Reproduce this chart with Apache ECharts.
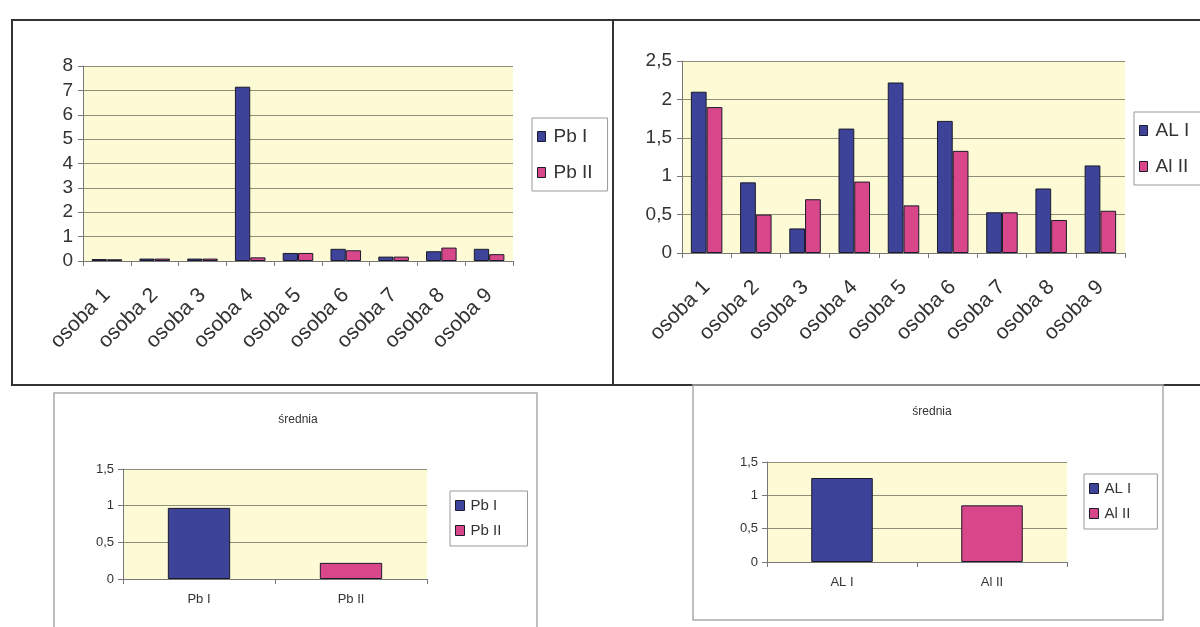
<!DOCTYPE html>
<html><head><meta charset="utf-8">
<script src="https://cdn.jsdelivr.net/npm/echarts@6/dist/echarts.min.js"></script>
<style>html,body{margin:0;padding:0;background:#fff;}#c{width:1200px;height:627px;}</style>
</head><body><div id="c"></div>
<script>
const persons = ['osoba 1','osoba 2','osoba 3','osoba 4','osoba 5','osoba 6','osoba 7','osoba 8','osoba 9'];
const pbI  = [0.08, 0.1, 0.1, 7.15, 0.33, 0.5, 0.18, 0.4, 0.5];
const pbII = [0.07, 0.1, 0.1, 0.15, 0.33, 0.44, 0.18, 0.55, 0.28];
const alI  = [2.1, 0.92, 0.32, 1.62, 2.22, 1.72, 0.53, 0.84, 1.14];
const alII = [1.9, 0.5, 0.7, 0.93, 0.62, 1.33, 0.53, 0.43, 0.55];
const pbMeanCats = ['Pb I','Pb II'];
const pbMean = [0.97, 0.22];
const alMeanCats = ['AL I','Al II'];
const alMean = [1.26, 0.85];

const BLUE = '#3d4398', PINK = '#d9478b', EDGE = '#1a1a2a';
const FONT = 'Liberation Sans';
const comma = v => String(v).replace('.', ',');

const grids = [
  {left:83, top:66, width:430, height:195},
  {left:682, top:61, width:443, height:192},
  {left:123, top:469, width:304, height:110},
  {left:767, top:462, width:300, height:100}
].map(g => Object.assign(g, {show:true, backgroundColor:'#fdfbd6', borderWidth:0}));

function xAx(i, cats, big){
  return {type:'category', gridIndex:i, data:cats,
    axisLine:{lineStyle:{color:'#777', width:1}},
    axisTick:{show:true, length:5, lineStyle:{color:'#777'}},
    axisLabel: big ? {rotate:45, fontSize:21, color:'#333', fontFamily:FONT, margin:31, interval:0}
                   : {fontSize:13, color:'#333', fontFamily:FONT, margin:14}};
}
function yAx(i, max, interval, big){
  return {type:'value', gridIndex:i, min:0, max:max, interval:interval,
    axisLine:{show:true, lineStyle:{color:'#777'}},
    axisTick:{show:true, length:5, lineStyle:{color:'#777'}},
    splitLine:{lineStyle:{color:'#8f8f78', width:1.2}},
    axisLabel:{formatter:comma, fontSize: big?19:13, color:'#333', fontFamily:FONT, margin: big?10:9}};
}
function bar(name, data, color, i, opts){
  return Object.assign({type:'bar', name:name, data:data, xAxisIndex:i, yAxisIndex:i,
    itemStyle:{color:color, borderColor:EDGE, borderWidth:1}, barGap:'0%', barCategoryGap:'36%'}, opts||{});
}
function legend(names, left, top, big){
  return {data:names, orient:'vertical', left:left, top:top, icon:'rect',
    itemWidth: big?8:9, itemHeight: big?10:10, itemGap: big?17:10,
    itemStyle:{borderColor:EDGE, borderWidth:1},
    borderColor:'#999', borderWidth:1, padding: big?[9,15,9,5]:[7,22,8,5],
    textStyle:{fontSize: big?19:15, color:'#333', fontFamily:FONT, padding:[0,0,0, big?3:1]}};
}

const option = {
  animation:false,
  textStyle:{fontFamily:FONT},
  title:[
    {text:'średnia', left:293, top:409, textAlign:'center', textStyle:{fontSize:12, fontWeight:'normal', color:'#333', fontFamily:FONT}},
    {text:'średnia', left:927, top:401, textAlign:'center', textStyle:{fontSize:12, fontWeight:'normal', color:'#333', fontFamily:FONT}}
  ],
  grid: grids,
  xAxis:[xAx(0,persons,true), xAx(1,persons,true), xAx(2,pbMeanCats,false), xAx(3,alMeanCats,false)],
  yAxis:[yAx(0,8,1,true), yAx(1,2.5,0.5,true), yAx(2,1.5,0.5,false), yAx(3,1.5,0.5,false)],
  legend:[
    legend(['Pb I','Pb II'], 532, 118, true),
    legend(['AL I','Al II'], 1134, 112, true),
    legend(['Pb I ','Pb II '], 450, 491, false),
    legend(['AL I ','Al II '], 1084, 474, false)
  ],
  series:[
    bar('Pb I', pbI, BLUE, 0),
    bar('Pb II', pbII, PINK, 0),
    bar('AL I', alI, BLUE, 1),
    bar('Al II', alII, PINK, 1),
    bar('Pb I ', [pbMean[0], '-'], BLUE, 2, {barGap:'-100%', barCategoryGap:'59%'}),
    bar('Pb II ', ['-', pbMean[1]], PINK, 2, {barGap:'-100%', barCategoryGap:'59%'}),
    bar('AL I ', [alMean[0], '-'], BLUE, 3, {barGap:'-100%', barCategoryGap:'59%'}),
    bar('Al II ', ['-', alMean[1]], PINK, 3, {barGap:'-100%', barCategoryGap:'59%'})
  ],
  graphic:[
    {type:'rect', shape:{x:12, y:20, width:1190, height:365}, style:{fill:'none', stroke:'#333', lineWidth:2}, z:-1},
    {type:'line', shape:{x1:613, y1:20, x2:613, y2:385}, style:{stroke:'#333', lineWidth:2}, z:-1},
    {type:'rect', shape:{x:54, y:393, width:483, height:245}, style:{fill:'none', stroke:'#aaa', lineWidth:1.5}, z:-1},
    {type:'rect', shape:{x:693, y:385, width:470, height:235}, style:{fill:'none', stroke:'#aaa', lineWidth:1.5}, z:-1}
  ]
};
const chart = echarts.init(document.getElementById('c'));
chart.setOption(option);
</script>
</body></html>
